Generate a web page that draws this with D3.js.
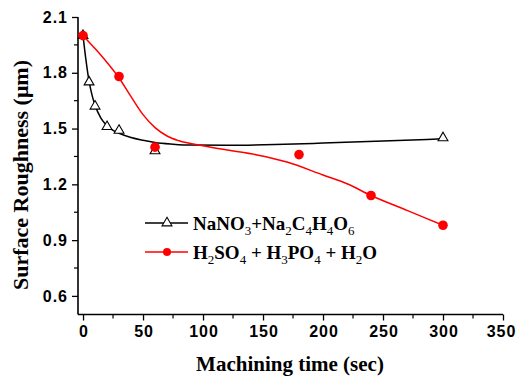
<!DOCTYPE html>
<html>
<head>
<meta charset="utf-8">
<script src="https://cdn.jsdelivr.net/npm/d3@7"></script>
<style>
  body { margin: 0; background: #fff; }
  .tick-label { font-family: "Liberation Sans", Arial, sans-serif; font-weight: bold; font-size: 16px; letter-spacing: 1px; }
  .serif { font-family: "Liberation Serif", "Times New Roman", serif; font-weight: bold; }
</style>
</head>
<body>
<div id="chart"></div>
<script>
// measured points
const timeA = [0, 5, 10, 20, 30, 60, 300];
const roughA = [2.0, 1.75, 1.62, 1.51, 1.49, 1.38, 1.45];
const timeB = [0, 30, 60, 180, 240, 300];
const roughB = [2.0, 1.78, 1.40, 1.36, 1.14, 0.98];

// fitted curves
const fitTimeA = [0, 2.5, 5, 7.5, 10, 15, 20, 25, 30, 40, 50, 60, 75, 90, 120, 160, 200, 250, 300];
const fitRoughA = [2.0, 1.865, 1.755, 1.68, 1.625, 1.555, 1.515, 1.49, 1.475, 1.452, 1.437, 1.425, 1.416, 1.411, 1.41, 1.414, 1.422, 1.433, 1.445];
const fitTimeB = [0, 10, 20, 30, 40, 50, 60, 70, 80, 100, 120, 145, 170, 200, 220, 240, 270, 300];
const fitRoughB = [2.0, 1.93, 1.855, 1.772, 1.672, 1.575, 1.505, 1.46, 1.434, 1.408, 1.385, 1.358, 1.32, 1.25, 1.203, 1.14, 1.06, 0.98];

const xTicks = [0, 50, 100, 150, 200, 250, 300, 350];
const yTicks = [0.6, 0.9, 1.2, 1.5, 1.8, 2.1];
const legendA = [["NaNO", ""], ["3", "sub"], ["+Na", ""], ["2", "sub"], ["C", ""], ["4", "sub"], ["H", ""], ["4", "sub"], ["O", ""], ["6", "sub"]];
const legendB = [["H", ""], ["2", "sub"], ["SO", ""], ["4", "sub"], [" + H", ""], ["3", "sub"], ["PO", ""], ["4", "sub"], [" + H", ""], ["2", "sub"], ["O", ""]];

const W = 516, H = 376;
const svg = d3.select('#chart').append('svg')
  .attr('width', W).attr('height', H);

const x = d3.scaleLinear().domain([-4.2, 350]).range([78, 503]);
const y = d3.scaleLinear().domain([0.5, 2.1]).range([314.5, 17]);

// axes
const xAxis = d3.axisBottom(x).tickValues(xTicks).tickSize(6).tickPadding(5);
const yAxis = d3.axisLeft(y).tickValues(yTicks).tickSize(6).tickPadding(4).tickFormat(d3.format('.1f'));

const gx = svg.append('g').attr('transform', 'translate(0,314.5)').call(xAxis);
const gy = svg.append('g').attr('transform', 'translate(78,0)').call(yAxis);
[gx, gy].forEach(g => {
  g.select('.domain').attr('stroke', '#000').attr('stroke-width', 1.6);
  g.selectAll('.tick line').attr('stroke-width', 1.3);
  g.selectAll('.tick text').attr('class', 'tick-label').attr('fill', '#000');
});
gx.select('.domain').attr('d', 'M78,0H503');
gy.select('.domain').attr('d', 'M0,17V314.5');
gx.selectAll('.tick text').attr('dx', d => d === 350 ? -2 : 0.5);

// minor ticks
const xMinor = d3.range(25, 350, 50);
const yMinor = d3.range(0.75, 2.1, 0.3);
svg.append('g').selectAll('line').data(xMinor).join('line')
  .attr('x1', d => x(d)).attr('x2', d => x(d))
  .attr('y1', 314.5).attr('y2', 318.5)
  .attr('stroke', '#000').attr('stroke-width', 1.2);
svg.append('g').selectAll('line').data(yMinor).join('line')
  .attr('x1', 74).attr('x2', 78)
  .attr('y1', d => y(d)).attr('y2', d => y(d))
  .attr('stroke', '#000').attr('stroke-width', 1.2);

// axis titles
svg.append('text').attr('class', 'serif')
  .attr('x', 290).attr('y', 371)
  .attr('text-anchor', 'middle').attr('font-size', 21)
  .text('Machining time (sec)');
svg.append('text').attr('class', 'serif')
  .attr('transform', 'translate(28,175) rotate(-90)')
  .attr('text-anchor', 'middle').attr('font-size', 22)
  .text('Surface Roughness (\u03bcm)');

// curves
const line = d3.line().curve(d3.curveMonotoneX);
svg.append('path')
  .attr('d', line(fitTimeA.map((t, i) => [x(t), y(fitRoughA[i])])))
  .attr('fill', 'none').attr('stroke', '#000').attr('stroke-width', 1.5);
svg.append('path')
  .attr('d', line(fitTimeB.map((t, i) => [x(t), y(fitRoughB[i])])))
  .attr('fill', 'none').attr('stroke', '#ff0000').attr('stroke-width', 1.5);

// markers
const tri = d3.symbol().type(d3.symbolTriangle).size(42);
svg.append('g').selectAll('path').data(timeA).join('path')
  .attr('d', tri)
  .attr('transform', (d, i) => `translate(${x(d)},${y(roughA[i])})`)
  .attr('fill', '#fff').attr('stroke', '#000').attr('stroke-width', 1.1);
svg.append('g').selectAll('circle').data(timeB).join('circle')
  .attr('cx', d => x(d)).attr('cy', (d, i) => y(roughB[i]))
  .attr('r', 4.8).attr('fill', '#ff0000');

// legend
function legendRow(cy, color, isTri, parts) {
  svg.append('line').attr('x1', 145).attr('x2', 188).attr('y1', cy).attr('y2', cy)
    .attr('stroke', color).attr('stroke-width', 1.5);
  if (isTri) {
    svg.append('path').attr('d', tri).attr('transform', `translate(167,${cy})`)
      .attr('fill', '#fff').attr('stroke', '#000').attr('stroke-width', 1.1);
  } else {
    svg.append('circle').attr('cx', 167).attr('cy', cy).attr('r', 4).attr('fill', color);
  }
  const t = svg.append('text').attr('class', 'serif')
    .attr('x', 193).attr('y', cy + 6.5).attr('font-size', 19)
    .attr('xml:space', 'preserve');
  let prevSub = false;
  parts.forEach(([s, kind]) => {
    if (kind === 'sub') {
      t.append('tspan').attr('font-size', 13).attr('font-weight', 'normal').attr('dy', 5).text(s);
      prevSub = true;
    } else {
      t.append('tspan').attr('dy', prevSub ? -5 : 0).text(s);
      prevSub = false;
    }
  });
}
legendRow(223, '#000', true, legendA);
legendRow(252, '#ff0000', false, legendB);
</script>
</body>
</html>
